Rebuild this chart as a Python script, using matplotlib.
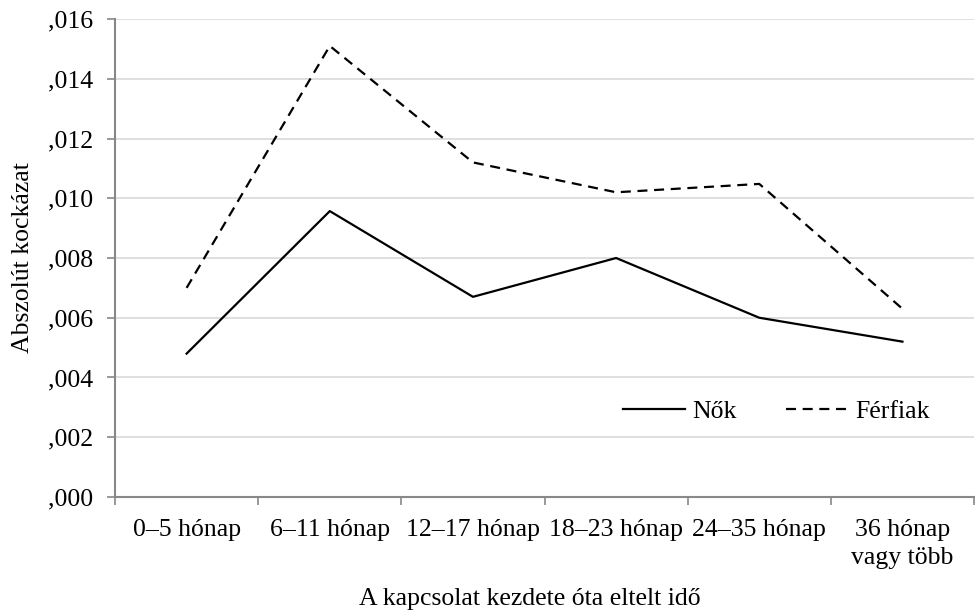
import numpy as np
import matplotlib.pyplot as plt
from matplotlib.ticker import FuncFormatter, FixedLocator

plt.rcParams['font.family'] = ['Liberation Serif', 'DejaVu Serif']

categories = ['0–5 hónap', '6–11 hónap', '12–17 hónap', '18–23 hónap', '24–35 hónap', '36 hónap\nvagy több']
nok = [0.0048, 0.00957, 0.0067, 0.0080, 0.0060, 0.0052]
ferfiak = [0.0070, 0.0151, 0.0112, 0.0102, 0.01048, 0.0063]

fs = 18.5
fig = plt.figure(figsize=(9.75, 6.14), dpi=100)
ax = fig.add_axes([0.118, 0.1906, 0.881, 0.7784])

x = np.arange(len(categories))
ax.plot(x, nok, color='black', lw=1.6, label='Nők')
ax.plot(x, ferfiak, color='black', lw=1.6, ls=(0, (4.5, 3)), label='Férfiak')

ax.set_xlim(-0.5, len(categories) - 0.5)
ax.set_ylim(0, 0.016)
ax.set_yticks(np.arange(0, 0.0161, 0.002))
ax.yaxis.set_major_formatter(FuncFormatter(lambda v, p: ('%.3f' % v)[1:].replace('.', ',')))
ax.grid(axis='y', color='#d9d9d9', lw=1.2)
ax.set_axisbelow(True)

ax.set_xticks(x)
ax.set_xticklabels(categories, linespacing=1.35)
ax.xaxis.set_minor_locator(FixedLocator(np.arange(-0.5, len(categories), 1)))
ax.tick_params(axis='x', which='major', length=0, pad=16, labelsize=fs)
ax.tick_params(axis='x', which='minor', length=6, color='#888888', width=1.2)
ax.tick_params(axis='y', length=6, color='#888888', width=1.2, labelsize=fs, pad=10)

for s in ['top', 'right']:
    ax.spines[s].set_visible(False)
for s in ['left', 'bottom']:
    ax.spines[s].set_color('#888888')
    ax.spines[s].set_linewidth(1.5)

ax.set_ylabel('Abszolút kockázat', fontsize=fs, labelpad=10)
# x axis title placed directly so it stays inside the figure
fig.text(0.5435, 0.024, 'A kapcsolat kezdete óta eltelt idő', fontsize=fs,
         ha='center', va='center')

ax.legend(loc='center', bbox_to_anchor=(0.7964, 0.329), bbox_transform=fig.transFigure,
          ncol=2, frameon=False, fontsize=fs, handlelength=2.4, handletextpad=0.3,
          columnspacing=1.9)

fig.savefig('out.png', dpi=100)
